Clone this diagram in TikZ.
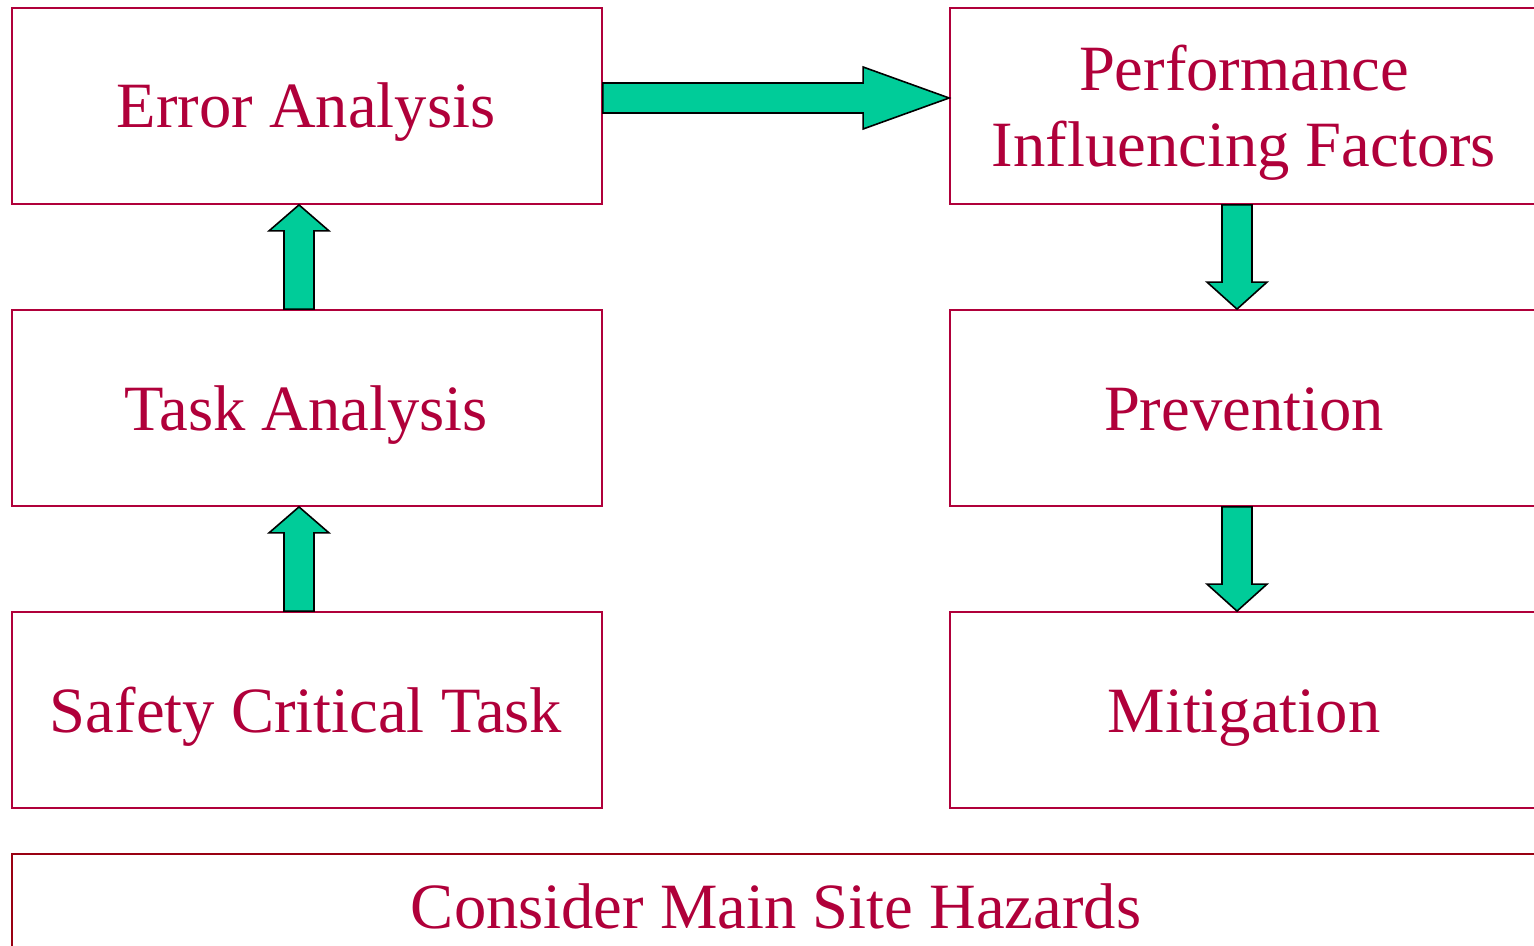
\documentclass[tikz,border=0pt]{standalone}
\usepackage{fontspec}
\setmainfont{Liberation Serif}
\usetikzlibrary{calc}
\definecolor{crim}{HTML}{B0003A}
\definecolor{darkcrim}{HTML}{990012}
\definecolor{arrowgreen}{RGB}{0,204,153}
\tikzset{
  box/.style={draw=crim, line width=0.9pt, rectangle, minimum width=295pt, minimum height=98pt, inner sep=0pt},
  txt/.style={text=crim, font=\fontsize{32.3}{38}\selectfont, inner sep=0pt, align=center},
  barrow/.style={fill=arrowgreen, draw=black, line width=0.8pt, line join=miter}
}
\begin{document}
\begin{tikzpicture}[x=0.5pt, y=-0.5pt]
\useasboundingbox (0,0) rectangle (1534,946);
% boxes
\node[box] (ea) at (307,106) {};
\node[box] (ta) at (307,408) {};
\node[box] (sc) at (307,710) {};
\node[box] (pif) at (1245,106) {};
\node[box] (pr) at (1245,408) {};
\node[box] (mi) at (1245,710) {};
\node[box, draw=darkcrim, minimum width=764pt, minimum height=73pt] (hz) at (776,927) {};
% texts
\node[txt, anchor=base] (eat) at (306,128) {Error Analysis};
\node[txt, anchor=base] (tat) at (306,430) {Task Analysis};
\node[txt, anchor=base] (sct) at (306,732) {Safety Critical Task};
\node[txt, anchor=base] (pift) at (1244,167) {Performance\\Influencing Factors};
\node[txt, anchor=base] (prt) at (1244,430) {Prevention};
\node[txt, anchor=base] (mit) at (1244,732) {Mitigation};
\node[txt, anchor=base] (hzt) at (776,928) {Consider Main Site Hazards};
% right block arrow
\coordinate (r0) at ($(ea.east)+(0,-8)$);
\coordinate (r1) at ($(pif.west)+(0,-8)$);
\draw[barrow] ($(r0)+(0,-15)$) -- ($(r1)+(-86,-15)$) -- ($(r1)+(-86,-31)$) -- (r1)
  -- ($(r1)+(-86,31)$) -- ($(r1)+(-86,15)$) -- ($(r0)+(0,15)$) -- cycle;
% up arrows
\foreach \a/\b/\n in {ta/ea/1, sc/ta/2} {
  \coordinate (u0\n) at ($(\a.north)+(-8,0)$);
  \coordinate (u1\n) at ($(\b.south)+(-8,0)$);
  \draw[barrow] ($(u0\n)+(-15,0)$) -- ($(u1\n)+(-15,26)$) -- ($(u1\n)+(-30,26)$) -- (u1\n)
    -- ($(u1\n)+(30,26)$) -- ($(u1\n)+(15,26)$) -- ($(u0\n)+(15,0)$) -- cycle;
}
% down arrows
\foreach \a/\b/\n in {pif/pr/1, pr/mi/2} {
  \coordinate (d0\n) at ($(\a.south)+(-8,0)$);
  \coordinate (d1\n) at ($(\b.north)+(-8,0)$);
  \draw[barrow] ($(d0\n)+(-15,0)$) -- ($(d1\n)+(-15,-27)$) -- ($(d1\n)+(-30,-27)$) -- (d1\n)
    -- ($(d1\n)+(30,-27)$) -- ($(d1\n)+(15,-27)$) -- ($(d0\n)+(15,0)$) -- cycle;
}
\end{tikzpicture}
\end{document}
